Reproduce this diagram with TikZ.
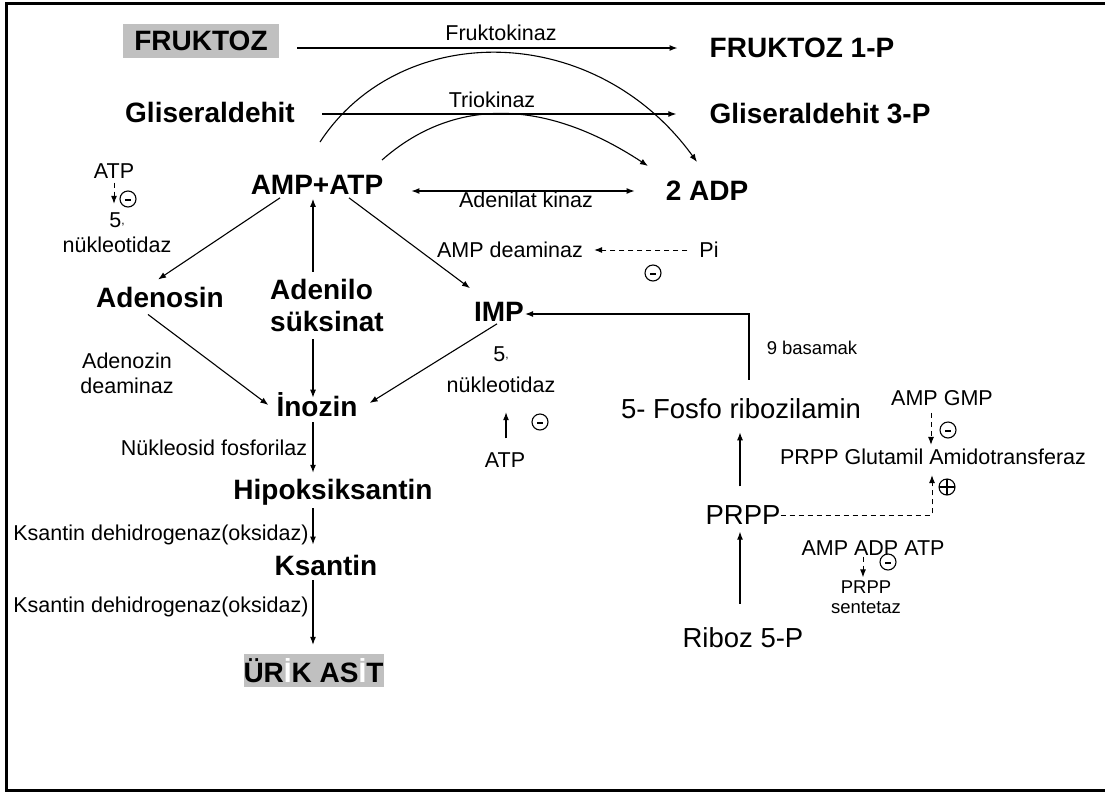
\documentclass[tikz,border=0pt]{standalone}
\usepackage{fontspec}
\setmainfont{Liberation Sans}
\usetikzlibrary{arrows.meta}
\definecolor{boxgray}{RGB}{192,192,192}
\newcommand{\primecomma}{\raisebox{0.3ex}{\fontsize{12}{12}\selectfont,}}
\tikzset{
  big/.style={font=\fontsize{28}{32}\selectfont\bfseries, inner sep=0pt, align=left},
  mid/.style={font=\fontsize{27.5}{32}\selectfont, inner sep=0pt},
  lbl/.style={font=\fontsize{21.5}{25}\selectfont, inner sep=0pt, align=center},
  sml/.style={font=\fontsize{18.5}{20}\selectfont, inner sep=0pt, align=center},
  arr/.style={line width=1.1pt, -{Latex[length=8pt,width=6pt]}},
  dbl/.style={line width=1.1pt, {Latex[length=8pt,width=6pt]}-{Latex[length=8pt,width=6pt]}},
  inh/.style={arr, line width=1pt, dash pattern=on 5pt off 4pt},
  sgn/.style={circle, draw, line width=1.1pt, minimum size=16pt, inner sep=0pt},
  minus/.style={sgn, path picture={\draw[line width=2.4pt] ([xshift=-3pt,yshift=-1pt]path picture bounding box.center) -- ([xshift=3pt,yshift=-1pt]path picture bounding box.center);}},
  plus/.style={sgn, path picture={\draw[line width=1.6pt] (path picture bounding box.north) -- (path picture bounding box.south) (path picture bounding box.west) -- (path picture bounding box.east);}}
}
\begin{document}
\begin{tikzpicture}[x=1pt,y=-1pt]
\useasboundingbox (0,0) rectangle (1105,793);
\draw[line width=3pt] (1108,3.3) -- (6.7,3.3) -- (6.7,790) -- (1108,790);
\node[big, fill=boxgray, minimum width=156pt, minimum height=34pt] (fruk) at (201,41) {FRUKTOZ};
\node[big] (fruk1p) at (802,48) {FRUKTOZ 1-P};
\node[big] (glis) at (210,112) {Gliseraldehit};
\node[big] (glis3p) at (820,114) {Gliseraldehit 3-P};
\node[big] (amp) at (317,185) {AMP+ATP};
\node[big] (adp) at (707,191) {2 ADP};
\node[big] (adenosin) at (160,297) {Adenosin};
\node[big] (adenilo) at (327,305) {Adenilo\\süksinat};
\node[big] (imp) at (499,312) {IMP};
\node[big] (inozin) at (317,405) {İnozin};
\node[big] (hipo) at (333,492) {Hipoksiksantin};
\node[big] (ksantin) at (326,565) {Ksantin};
\node[big, fill=boxgray, minimum width=139pt, minimum height=33pt] (urik) at (313.5,670.5) {ÜR{\color{white}İ}K AS{\color{white}İ}T};
\node[mid] (fosfo) at (741,409) {5- Fosfo ribozilamin};
\node[mid] (prpp) at (743,515) {PRPP};
\node[mid] (riboz) at (743,638) {Riboz 5-P};
\node[lbl] (fkinaz) at (501,33) {Fruktokinaz};
\node[lbl] (tkinaz) at (492,100) {Triokinaz};
\node[lbl] (akinaz) at (526,200) {Adenilat kinaz};
\node[lbl] (atpa) at (114,171) {ATP};
\node[lbl] (nuka) at (117,233) {5\primecomma\\nükleotidaz};
\node[lbl] (adeam) at (127,373) {Adenozin\\deaminaz};
\node[lbl] (ampdeam) at (510,250) {AMP deaminaz};
\node[lbl] (pi) at (709,250) {Pi};
\node[lbl] (nfosf) at (214,448) {Nükleosid fosforilaz};
\node[lbl, font=\fontsize{21.5}{31}\selectfont] (nukb) at (501,370) {5\primecomma\\nükleotidaz};
\node[lbl] (atpb) at (505,460) {ATP};
\node[lbl] (kdha) at (161,535) {Ksantin dehidrogenaz(oksidaz)};
\node[lbl] (kdhb) at (161,607) {Ksantin dehidrogenaz(oksidaz)};
\node[lbl] (glut) at (933,457) {PRPP Glutamil Amidotransferaz};
\node[lbl] (ampgmp) at (942,398) {AMP GMP};
\node[lbl] (aat) at (873,548) {AMP ADP ATP};
\node[sml] (bsmk) at (812,348) {9 basamak};
\node[sml] (sentetaz) at (866,597) {PRPP\\sentetaz};
\node[minus] (ma) at (128,199) {};
\node[minus] (mb) at (653,273) {};
\node[minus] (mc) at (540,422) {};
\node[minus] (md) at (948,430) {};
\node[minus] (me) at (888,562) {};
\node[plus] (pa) at (947,487) {};
\coordinate (ca) at (320,142);
\coordinate (cb) at (697,162);
\coordinate (cc) at (382,160);
\coordinate (cd) at (648,166);
\draw[arr, shorten <=18pt, shorten >=32pt] (fruk.east |- fruk1p.west) -- (fruk1p.west);
\draw[arr, shorten <=27pt, shorten >=33pt] (glis.east |- glis3p.west) -- (glis3p.west);
\draw[arr] (ca) .. controls (400,20) and (594,20) .. (cb);
\draw[arr] (cc) .. controls (450,100) and (540,95) .. (cd);
\draw[dbl, shorten <=28pt, shorten >=31pt] (amp.east |- adp.west) -- (adp.west);
\draw[arr] ([xshift=-37pt,yshift=-3pt]amp.south) -- ([xshift=-2pt,yshift=7pt]adenosin.north);
\draw[arr] ([xshift=32pt,yshift=-3pt]amp.south) -- ([xshift=-29pt,yshift=14pt]imp.north);
\draw[arr] ([xshift=-14pt,yshift=7pt]adenilo.north) -- ([xshift=-4pt,yshift=-4pt]amp.south);
\draw[arr] ([xshift=-14pt,yshift=-8pt]adenilo.south) -- ([xshift=-4pt,yshift=-5pt]inozin.north);
\draw[arr] ([xshift=-12pt,yshift=-7pt]adenosin.south) -- ([xshift=-8pt]inozin.west);
\draw[arr] ([xshift=-2pt,yshift=-2pt]imp.south) -- ([xshift=12pt,yshift=2pt]inozin.east);
\draw[arr] ([xshift=-4pt,yshift=-5pt]inozin.south) -- ([xshift=-20pt,yshift=6pt]hipo.north);
\draw[arr] ([xshift=-20pt,yshift=-3pt]hipo.south) -- ([xshift=-13pt,yshift=10pt]ksantin.north);
\draw[arr] ([xshift=-13pt,yshift=-5pt]ksantin.south) -- ([xshift=-0.5pt,yshift=9pt]urik.north);
\draw[arr] ([xshift=8pt,yshift=19pt]fosfo.north) |- ([xshift=1pt,yshift=-2pt]imp.east);
\draw[arr] ([xshift=-3pt,yshift=19pt]prpp.north) -- ([xshift=-1pt,yshift=-13pt]fosfo.south);
\draw[arr] ([xshift=-3pt,yshift=24pt]riboz.north) -- ([xshift=-3pt,yshift=-7pt]prpp.south);
\draw[arr] ([xshift=1pt,yshift=14pt]atpb.north) -- ([xshift=5pt,yshift=-19pt]nukb.south);
\draw[inh] (prpp.east) -| ([xshift=-1pt,yshift=-10pt]glut.south);
\draw[inh] ([xshift=-11pt,yshift=-7pt]ampgmp.south) -- ([xshift=-2pt,yshift=4pt]glut.north);
\draw[inh] ([xshift=-10pt,yshift=-1pt]aat.south) -- ([xshift=-3pt,yshift=3pt]sentetaz.north);
\draw[inh] ([xshift=-12pt]pi.west) -- ([xshift=11pt]ampdeam.east);
\draw[inh] ([yshift=-4pt]atpa.south) -- ([xshift=-3pt,yshift=9pt]nuka.north);
\end{tikzpicture}
\end{document}
